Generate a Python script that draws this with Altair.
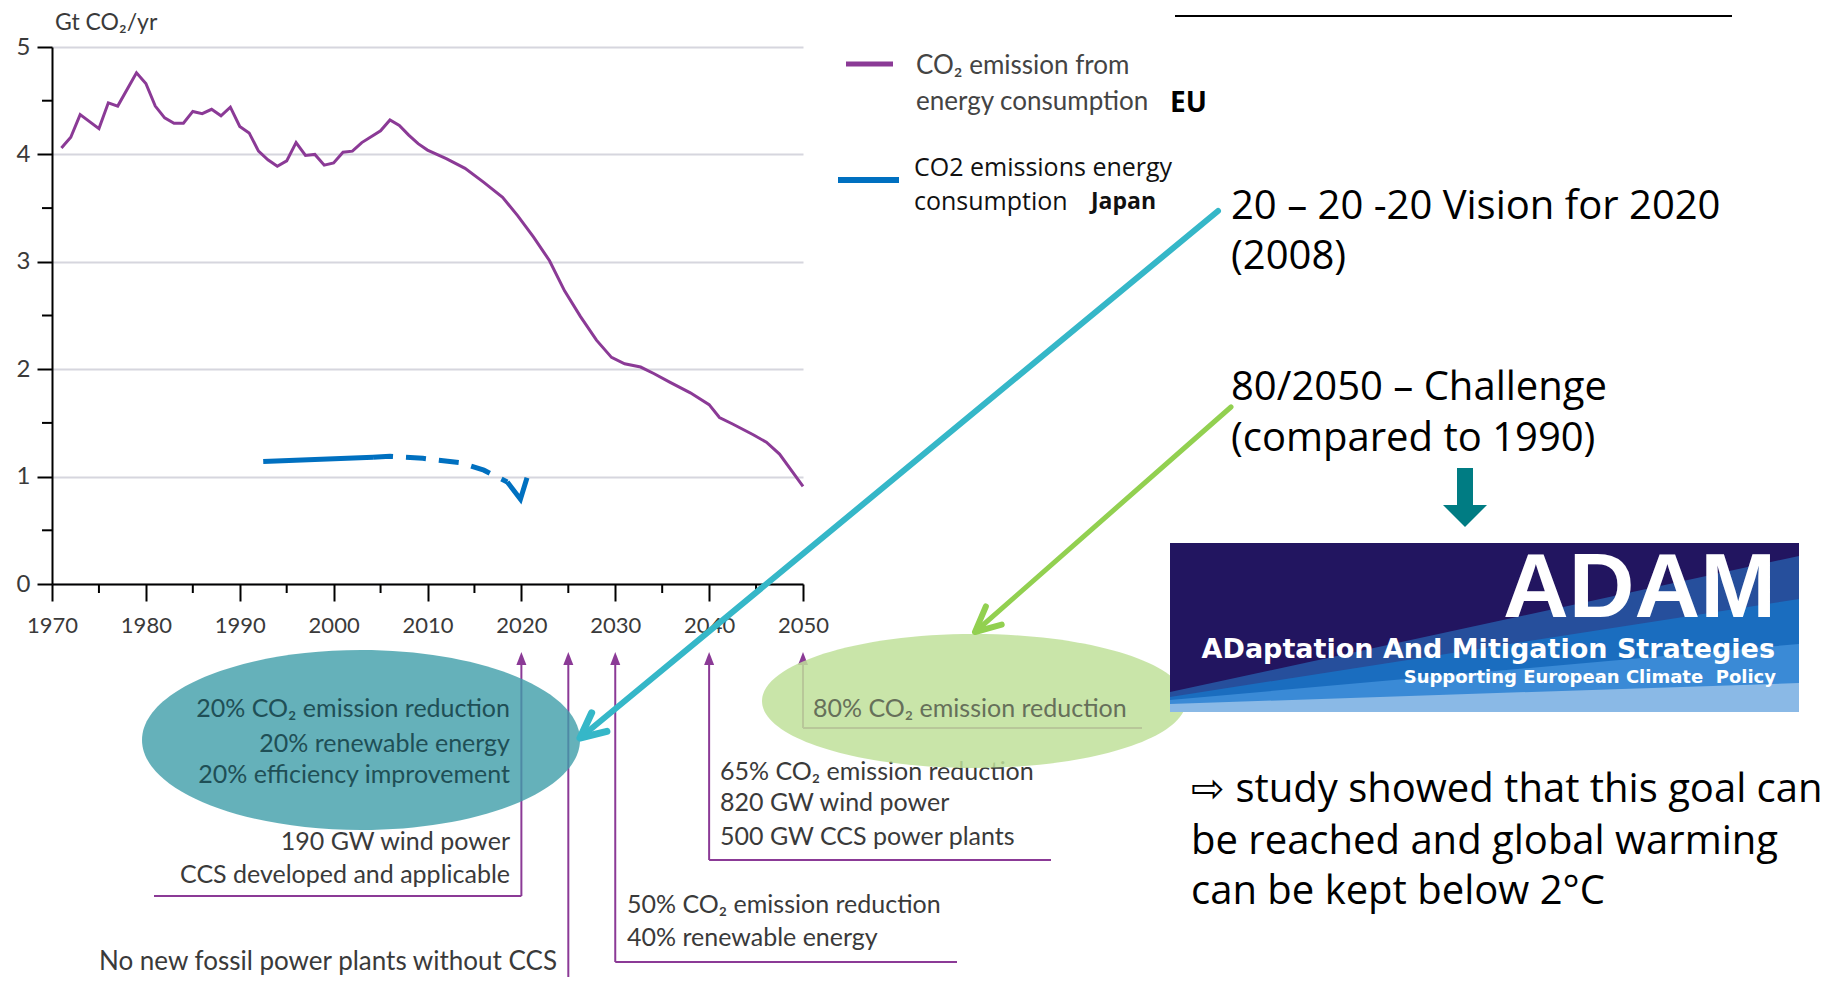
import altair as alt
import pandas as pd

# ---------------- data ----------------
eu_years = [1971, 1972, 1973, 1975, 1976, 1977, 1979, 1980, 1981, 1982, 1983, 1984,
            1985, 1986, 1987, 1988, 1989, 1990, 1991, 1992, 1993, 1994, 1995, 1996,
            1997, 1998, 1999, 2000, 2001, 2002, 2003, 2005, 2006, 2007, 2008, 2009,
            2010, 2012, 2014, 2016, 2018, 2019.6, 2021.3, 2023, 2024.6, 2026.3, 2028,
            2029.6, 2031, 2032.7, 2034.1, 2035.8, 2038, 2040, 2041.1, 2042.5, 2044.7,
            2046.1, 2047.5, 2050]
eu_values = [4.06, 4.16, 4.37, 4.24, 4.48, 4.45, 4.76, 4.66, 4.45, 4.34, 4.29, 4.29,
             4.40, 4.38, 4.42, 4.36, 4.44, 4.26, 4.20, 4.03, 3.95, 3.89, 3.94, 4.11,
             3.99, 4.00, 3.90, 3.92, 4.02, 4.03, 4.11, 4.22, 4.32, 4.27, 4.18, 4.10,
             4.04, 3.96, 3.87, 3.74, 3.60, 3.43, 3.23, 3.01, 2.73, 2.49, 2.27,
             2.11, 2.05, 2.02, 1.96, 1.88, 1.78, 1.67, 1.55, 1.49, 1.39,
             1.32, 1.21, 0.91]

jp_solid_years = [1992.5, 1998.0, 2004.2]
jp_solid_values = [1.14, 1.16, 1.18]
jp_dash_years = [2004.2, 2006.0, 2009.5, 2013.5, 2016.0, 2018.5]
jp_dash_values = [1.18, 1.19, 1.17, 1.13, 1.06, 0.95]
jp_hook_years = [2018.5, 2019.9, 2020.6]
jp_hook_values = [0.95, 0.79, 0.99]

y_major = [0, 1, 2, 3, 4, 5]
y_minor = [0.5, 1.5, 2.5, 3.5, 4.5]
x_major = [1970, 1980, 1990, 2000, 2010, 2020, 2030, 2040, 2050]
x_minor = [1975, 1985, 1995, 2005, 2015, 2025, 2035, 2045]

milestone_years = [2020, 2025, 2030, 2040, 2050]

unit_label = "Gt CO\u2082/yr"
legend_eu = ["CO\u2082 emission from", "energy consumption", "EU"]
legend_jp = ["CO2 emissions energy", "consumption", "Japan"]
vision_lines = ["20 \u2013 20 -20 Vision for 2020", "(2008)"]
challenge_lines = ["80/2050 \u2013 Challenge", "(compared to 1990)"]
study_lines = ["\u21e8 study showed that this goal can",
               "be reached and global warming",
               "can be kept below 2\u00b0C"]
m2020_lines = ["20% CO\u2082 emission reduction", "20% renewable energy",
               "20% efficiency improvement", "190 GW wind power",
               "CCS developed and applicable"]
m2025_lines = ["No new fossil power plants without CCS"]
m2030_lines = ["50% CO\u2082 emission reduction", "40% renewable energy"]
m2040_lines = ["65% CO\u2082 emission reduction", "820 GW wind power",
               "500 GW CCS power plants"]
m2050_lines = ["80% CO\u2082 emission reduction"]
adam_lines = ["ADAM", "ADaptation And Mitigation Strategies",
              "Supporting European Climate\u00a0 Policy"]

# ---------------- style ----------------
PURPLE = "#8b3a96"
BLUE = "#0070c0"
CYAN = "#35b7c8"
GREEN = "#92d050"
TEAL = "#007c83"
GRAY = "#3a3a3a"
W, H = 751, 537

xs = alt.Scale(domain=[1970, 2050], nice=False, zero=False)
ys = alt.Scale(domain=[0, 5], nice=False, zero=True)
XAX = alt.Axis(values=x_major, format="d", title=None, grid=False, tickSize=17,
               tickWidth=2, tickColor="black", domainColor="black", domainWidth=2,
               labelFont="Lato", labelFontSize=22, labelColor=GRAY, labelPadding=14,
               labelFlush=False, labelOverlap=False)
YAX = alt.Axis(values=y_major, format="d", title=None, grid=True, gridColor="#d6d6de",
               gridWidth=2, tickSize=15, tickWidth=2, tickColor="black",
               domainColor="black", domainWidth=2, labelFont="Lato", labelFontSize=24,
               labelColor=GRAY, labelPadding=7, labelFlush=False)


def X(field="year"):
    return alt.X(f"{field}:Q", scale=xs, axis=XAX)


def Y(field="value"):
    return alt.Y(f"{field}:Q", scale=ys, axis=YAX)


one = pd.DataFrame({"k": [0]})


def txt(s, x, y, size, color=GRAY, font="Lato", weight="normal",
        align="left", baseline="middle"):
    return alt.Chart(pd.DataFrame({"t": [s]})).mark_text(
        align=align, baseline=baseline, font=font, fontSize=size,
        fontWeight=weight, color=color
    ).encode(x=alt.value(x), y=alt.value(y), text="t:N")


def shape(path, x, y, fill=None, stroke=None, sw=0, fo=1.0, angle=0):
    kw = dict(shape=path, size=4, opacity=1, angle=angle)
    if fill is not None:
        kw.update(filled=True, fill=fill, fillOpacity=fo)
    else:
        kw.update(filled=False, fill="transparent")
    if stroke is not None:
        kw.update(stroke=stroke, strokeWidth=sw, strokeCap="round",
                  strokeJoin="round")
    else:
        kw.update(strokeWidth=0)
    return alt.Chart(one).mark_point(**kw).encode(x=alt.value(x), y=alt.value(y))


def hline(x1, x2, y, color, sw):
    return alt.Chart(one).mark_rule(color=color, strokeWidth=sw).encode(
        x=alt.value(x1), x2=alt.value(x2), y=alt.value(y))


layers = []

eu_df = pd.DataFrame({"year": eu_years, "value": eu_values})
main = alt.Chart(eu_df).mark_line(color=PURPLE, strokeWidth=3).encode(x=X(), y=Y())

ymin = alt.Chart(pd.DataFrame({"value": y_minor})).mark_rule(
    color="black", strokeWidth=2).encode(y=Y(), x=alt.value(-10), x2=alt.value(0))
xmin = alt.Chart(pd.DataFrame({"year": x_minor})).mark_rule(
    color="black", strokeWidth=2).encode(x=X(), y=alt.value(H), y2=alt.value(H + 9))


def jp(yrs, vals, dash=None):
    kw = dict(color=BLUE, strokeWidth=5)
    if dash:
        kw["strokeDash"] = dash
    return alt.Chart(pd.DataFrame({"year": yrs, "value": vals})).mark_line(**kw).encode(
        x=X(), y=Y())


layers += [main, ymin, xmin,
           jp(jp_solid_years, jp_solid_values),
           jp(jp_dash_years, jp_dash_values, [20, 13]),
           jp(jp_hook_years, jp_hook_values)]

layers.append(txt(unit_label, 3, -24, 23))

# milestone arrows (vertical lines from year positions)
ends = {2020: 849, 2025: 940, 2030: 915, 2040: 813, 2050: 681}
bracket = {2020: 102, 2030: 905, 2040: 999, 2050: 1090}
for yr in milestone_years:
    d = pd.DataFrame({"year": [yr]})
    layers.append(alt.Chart(d).mark_rule(color=PURPLE, strokeWidth=2).encode(
        x=X(), y=alt.value(611), y2=alt.value(ends[yr])))
    if yr in bracket:
        layers.append(alt.Chart(d).mark_rule(color=PURPLE, strokeWidth=2).encode(
            x=X(), x2=alt.value(bracket[yr]), y=alt.value(ends[yr])))
ms_df = pd.DataFrame({"year": milestone_years})
layers.append(alt.Chart(ms_df).mark_point(
    shape="M0,-7 L5,6 L-5,6 Z", size=4, filled=True, fill=PURPLE, opacity=1,
    strokeWidth=0).encode(x=X(), y=alt.value(612)))

# milestone texts
TS = 25
for line, yy in zip(m2020_lines[3:], [795, 828]):
    layers.append(txt(line, 458, yy, TS, align="right"))
layers.append(txt(m2025_lines[0], 505, 915, 26, align="right"))
for line, yy in zip(m2030_lines, [858, 891]):
    layers.append(txt(line, 575, yy, TS))
for line, yy in zip(m2040_lines, [725, 756, 790]):
    layers.append(txt(line, 668, yy, TS))

# ellipses
layers.append(shape("M-219,0 A219,90 0 1,0 219,0 A219,90 0 1,0 -219,0 Z",
                    309, 693, fill="#3f9ea9", fo=0.8))
layers.append(shape("M-212,0 A212,67 0 1,0 212,0 A212,67 0 1,0 -212,0 Z",
                    922, 654, fill="#bfe19a", fo=0.85))
for line, yy in zip(m2020_lines[:3], [662, 697, 728]):
    layers.append(txt(line, 458, yy, TS, color="#1f4f56", align="right"))
layers.append(txt(m2050_lines[0], 761, 662, TS, color="#66705a"))

# legend
layers.append(hline(794, 841, 17, PURPLE, 5))
layers.append(txt(legend_eu[0], 864, 19, 26, color="#444"))
layers.append(txt(legend_eu[1], 864, 55, 26, color="#444"))
layers.append(txt(legend_eu[2], 1118, 57, 28, color="black", weight="bold",
                  font="Open Sans"))
layers.append(hline(786, 847, 133, BLUE, 6))
layers.append(txt(legend_jp[0], 862, 121, 25, color="#111", font="Open Sans"))
layers.append(txt(legend_jp[1], 862, 155, 25, color="#111", font="Open Sans"))
layers.append(txt(legend_jp[2], 1039, 155, 23, color="#111", font="Open Sans",
                  weight="bold"))

# top line
layers.append(hline(1123, 1680, -31, "black", 2))

# slide texts
BIG = 40
layers.append(txt(vision_lines[0], 1179, 160, BIG, color="black", font="Open Sans"))
layers.append(txt(vision_lines[1], 1179, 210, BIG, color="black", font="Open Sans"))
layers.append(txt(challenge_lines[0], 1179, 341, BIG, color="black", font="Open Sans"))
layers.append(txt(challenge_lines[1], 1179, 392, BIG, color="black", font="Open Sans"))
for line, yy in zip(study_lines, [743, 795, 845]):
    layers.append(txt(line, 1139, yy, BIG, color="black", font="Open Sans"))

# teal down arrow
layers.append(alt.Chart(one).mark_rule(color=TEAL, strokeWidth=16).encode(
    x=alt.value(1413), y=alt.value(421), y2=alt.value(460)))
layers.append(shape("M-22,-11 L22,-11 L0,11 Z", 1413, 469, fill=TEAL))

# ADAM banner
BX, BY = 1118, 496
layers.append(shape("M0,0 H629 V169 H0 Z", BX, BY, fill="#221560"))
layers.append(shape("M629,13 L629,169 L0,169 L0,149 Z", BX, BY, fill="#264f9c"))
layers.append(shape("M629,56 L629,169 L0,169 L0,154 Z", BX, BY, fill="#1a6dbf"))
layers.append(shape("M629,101 L629,169 L0,169 L0,157 Z", BX, BY, fill="#3a8ad6"))
layers.append(shape("M629,140 L629,169 L0,169 L0,161 Z", BX, BY, fill="#8ab9e6"))
layers.append(txt(adam_lines[0], 1724, 570, 91, color="white",
                  font="Liberation Sans", weight="bold", align="right",
                  baseline="alphabetic"))
layers.append(txt(adam_lines[1], 1723, 611, 27, color="white",
                  font="DejaVu Sans", weight="bold", align="right",
                  baseline="alphabetic"))
layers.append(txt(adam_lines[2], 1724, 636, 18, color="white",
                  font="DejaVu Sans", weight="bold", align="right",
                  baseline="alphabetic"))

# cyan & green pointer arrows
layers.append(alt.Chart(one).mark_rule(color=CYAN, strokeWidth=6, strokeCap="round").encode(
    x=alt.value(1166), y=alt.value(164), x2=alt.value(528), y2=alt.value(691)))
layers.append(shape("M-12,-25 L0,0 L12,-25", 528, 691, stroke=CYAN, sw=7, angle=50.5))
layers.append(alt.Chart(one).mark_rule(color=GREEN, strokeWidth=5, strokeCap="round").encode(
    x=alt.value(1179), y=alt.value(360), x2=alt.value(923), y2=alt.value(585)))
layers.append(shape("M-12,-25 L0,0 L12,-25", 923, 585, stroke=GREEN, sw=6, angle=48.7))

chart = alt.layer(*layers).properties(
    width=W, height=H,
    autosize=alt.AutoSizeParams(type="none"),
    padding={"left": 44, "top": 39, "right": 1025, "bottom": 393},
    background="white",
).configure_view(stroke=None)

chart.save("out.html", embed_options={"renderer": "svg", "actions": False})
